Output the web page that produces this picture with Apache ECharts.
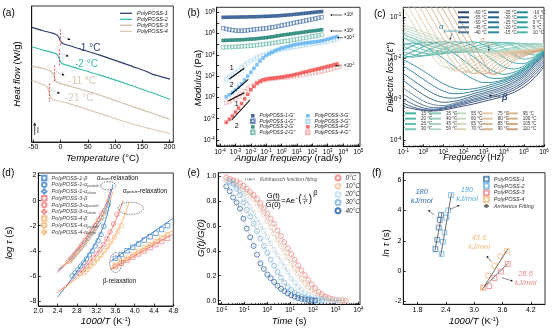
<!DOCTYPE html>
<html><head><meta charset="utf-8">
<script src="https://cdn.jsdelivr.net/npm/echarts@6/dist/echarts.min.js"></script>
<style>html,body{margin:0;padding:0;background:#fff}#c{width:554px;height:332px}</style>
</head><body><div id="c"></div>
<script>
const FONT = "'Liberation Sans', Arial, sans-serif";

// ---------- (a) DSC ----------
const aTemp1 = [-53,-32,-13,-6,-2,0,4,11,72,134,158,168,177,201];
const aHeat1 = [3.43,3.33,3.25,3.19,3.10,3.01,2.95,2.91,2.60,2.25,2.11,2.03,1.99,1.88];
const aTemp2 = [-53,-32,-13,-6,-3.4,-1,2.7,11.3,72.5,133.8,201];
const aHeat2 = [2.85,2.75,2.67,2.62,2.53,2.42,2.35,2.30,2.00,1.67,1.28];
const aTemp3 = [-53,-32,-19.4,-14.5,-11.4,-9,-4,11.3,72.5,133.8,201];
const aHeat3 = [2.27,2.20,2.13,2.07,1.95,1.83,1.77,1.70,1.40,1.05,0.68];
const aTemp4 = [-53,-37.7,-25.5,-22.4,-19.4,-16.3,-10.2,11.3,72.5,133.8,201];
const aHeat4 = [1.85,1.75,1.67,1.57,1.40,1.30,1.25,1.17,0.85,0.53,0.25];
const aTg = [-1,-2,-11,-21];
const aTicks = [-50,0,50,100,150,200];

// ---------- (b) rheology (log10 rad/s, log10 Pa) ----------
const bX1 = [-3.8,-3.6,-3.4,-3.2,-3.0,-2.8,-2.6,-2.4,-2.2,-2.0,-1.8,-1.6,-1.4,-1.2,-1.0,-0.8,-0.6,-0.4,-0.2,0,0.2,0.4,0.6,0.8,1.0,1.2,1.4,1.6,1.8,2.0,2.2,2.4,2.6];
const bP1s = [7.53,7.53,7.54,7.54,7.55,7.55,7.56,7.56,7.57,7.58,7.58,7.59,7.6,7.61,7.62,7.63,7.65,7.66,7.68,7.7,7.72,7.75,7.77,7.8,7.83,7.86,7.89,7.92,7.95,7.98,8.01,8.04,8.07];
const bP1l = [6.5,6.44,6.38,6.33,6.29,6.26,6.26,6.28,6.31,6.35,6.38,6.41,6.44,6.47,6.5,6.54,6.59,6.64,6.7,6.76,6.82,6.88,6.94,7.0,7.06,7.11,7.17,7.23,7.29,7.35,7.41,7.48,7.54];
const bP2s = [5.36,5.37,5.38,5.39,5.4,5.41,5.42,5.44,5.46,5.48,5.5,5.53,5.56,5.59,5.62,5.66,5.7,5.75,5.8,5.85,5.89,5.93,5.97,6.01,6.05,6.09,6.13,6.17,6.21,6.25,6.28,6.32,6.36];
const bP2l = [4.71,4.72,4.73,4.74,4.76,4.78,4.8,4.82,4.84,4.86,4.89,4.92,4.95,4.99,5.03,5.07,5.11,5.15,5.2,5.24,5.28,5.33,5.38,5.43,5.48,5.53,5.58,5.63,5.68,5.73,5.78,5.84,5.9];
const bX3 = [-3.6,-3.4,-3.2,-3.0,-2.8,-2.6,-2.4,-2.2,-2.0,-1.8,-1.6,-1.4,-1.2,-1.0,-0.8,-0.6,-0.4,-0.2,0,0.2,0.4,0.6,0.8,1.0,1.2,1.4,1.6,1.8,2.0,2.2,2.4,2.6,2.8,3.0,3.2,3.4,3.6];
const bP3s = [0.05,0.25,0.47,0.7,0.97,1.28,1.63,2.0,2.36,2.73,3.08,3.42,3.7,3.93,4.1,4.25,4.42,4.53,4.63,4.71,4.79,4.87,4.94,5.0,5.05,5.09,5.13,5.17,5.2,5.24,5.28,5.33,5.4,5.48,5.56,5.64,5.72];
const bP3l = [1.7,1.9,2.11,2.33,2.57,2.81,3.04,3.25,3.43,3.6,3.74,3.86,3.97,4.07,4.17,4.27,4.36,4.44,4.52,4.58,4.64,4.69,4.74,4.79,4.84,4.89,4.94,4.99,5.04,5.08,5.12,5.16,5.2,5.26,5.33,5.4,5.47];
const bP4s = [-2.34,-2.05,-1.74,-1.38,-1.0,-0.57,-0.13,0.3,0.72,1.04,1.33,1.52,1.65,1.72,1.77,1.8,1.83,1.87,1.91,1.96,2.01,2.06,2.13,2.2,2.27,2.35,2.42,2.49,2.56,2.63,2.7,2.77,2.85,2.92,2.99,3.07,3.15];
const bX4l = [-3.6,-3.4,-3.2,-3.0,-2.8,-2.6,-2.4,-2.2,-2.0,-1.8,-1.6,-1.4,-1.2,-1.0,-0.8,-0.6,-0.4,-0.2,0,0.2,0.4,0.6,0.8,1.0,1.2,1.4,1.6,1.8,2.0,2.2,2.4,2.6,2.8,3.0,3.2,3.4,3.6,3.8];
const bP4l = [-0.48,-0.38,-0.25,-0.08,0.11,0.33,0.58,0.83,1.03,1.21,1.36,1.5,1.6,1.68,1.73,1.77,1.8,1.83,1.85,1.88,1.91,1.94,1.98,2.03,2.08,2.13,2.19,2.24,2.29,2.34,2.39,2.45,2.51,2.57,2.63,2.72,2.82,2.92];

// ---------- (c) dielectric loss (log10 Hz, log10 eps'') ----------
const cLogFreq = [-1,-0.5,0,0.5,1,1.5,2,2.5,3,3.5,4,4.5,5,5.5,6];
const cTemps = [-60,-55,-50,-45,-40,-35,-30,-25,-20,-15,-10,-5,0,5,10,15,20,25,30,35,40,45,50,55,60,65,70,75,80,85,90,95,100,105,110];
const cLoss = [
 [-3.18,-3.24,-3.28,-3.29,-3.27,-3.22,-3.17,-3.12,-3.06,-3.0,-2.93,-2.84,-2.7,-2.5,-2.22],
 [-3.1,-3.2,-3.26,-3.27,-3.24,-3.19,-3.13,-3.07,-3.01,-2.95,-2.88,-2.78,-2.63,-2.43,-2.16],
 [-3.0,-3.13,-3.22,-3.25,-3.22,-3.16,-3.1,-3.03,-2.97,-2.91,-2.83,-2.73,-2.58,-2.37,-2.1],
 [-2.88,-3.03,-3.15,-3.21,-3.2,-3.14,-3.07,-3.0,-2.93,-2.86,-2.78,-2.68,-2.53,-2.32,-2.05],
 [-2.73,-2.9,-3.05,-3.14,-3.16,-3.11,-3.04,-2.96,-2.89,-2.82,-2.74,-2.63,-2.48,-2.27,-2.0],
 [-2.55,-2.73,-2.9,-3.02,-3.08,-3.06,-3.0,-2.92,-2.85,-2.78,-2.7,-2.59,-2.44,-2.22,-1.96],
 [-2.38,-2.55,-2.72,-2.87,-2.96,-2.98,-2.94,-2.87,-2.8,-2.73,-2.65,-2.54,-2.4,-2.18,-1.93],
 [-2.2,-2.35,-2.52,-2.68,-2.81,-2.87,-2.86,-2.81,-2.75,-2.68,-2.6,-2.5,-2.36,-2.15,-1.91],
 [-2.05,-2.17,-2.32,-2.48,-2.63,-2.73,-2.77,-2.75,-2.7,-2.63,-2.56,-2.46,-2.32,-2.12,-1.89],
 [-1.68,-1.64,-1.7,-1.85,-2.02,-2.2,-2.38,-2.52,-2.6,-2.59,-2.53,-2.43,-2.3,-2.1,-1.88],
 [-1.82,-1.7,-1.62,-1.63,-1.72,-1.88,-2.06,-2.25,-2.42,-2.5,-2.49,-2.4,-2.27,-2.08,-1.86],
 [-1.95,-1.84,-1.73,-1.64,-1.61,-1.66,-1.8,-1.98,-2.17,-2.33,-2.4,-2.35,-2.24,-2.05,-1.84],
 [-2.0,-1.95,-1.86,-1.76,-1.67,-1.61,-1.62,-1.72,-1.89,-2.07,-2.22,-2.27,-2.2,-2.03,-1.83],
 [-1.95,-1.98,-1.95,-1.88,-1.79,-1.7,-1.63,-1.61,-1.68,-1.82,-1.99,-2.12,-2.14,-2.0,-1.82],
 [-1.85,-1.92,-1.95,-1.93,-1.88,-1.8,-1.72,-1.65,-1.61,-1.64,-1.76,-1.92,-2.03,-1.98,-1.81],
 [-1.72,-1.82,-1.88,-1.91,-1.9,-1.86,-1.8,-1.73,-1.67,-1.62,-1.63,-1.72,-1.86,-1.93,-1.8],
 [-1.62,-1.72,-1.8,-1.86,-1.88,-1.87,-1.84,-1.79,-1.73,-1.67,-1.63,-1.64,-1.73,-1.85,-1.79],
 [-1.52,-1.62,-1.72,-1.8,-1.85,-1.87,-1.86,-1.83,-1.78,-1.72,-1.67,-1.64,-1.66,-1.75,-1.78],
 [-1.42,-1.53,-1.64,-1.73,-1.8,-1.84,-1.86,-1.85,-1.82,-1.78,-1.72,-1.67,-1.65,-1.68,-1.75],
 [-1.5,-1.58,-1.66,-1.73,-1.79,-1.83,-1.85,-1.86,-1.85,-1.83,-1.79,-1.74,-1.68,-1.65,-1.68],
 [-1.44,-1.52,-1.6,-1.68,-1.75,-1.8,-1.84,-1.86,-1.86,-1.85,-1.82,-1.77,-1.71,-1.66,-1.66],
 [-1.38,-1.46,-1.55,-1.63,-1.71,-1.77,-1.82,-1.85,-1.86,-1.86,-1.84,-1.8,-1.75,-1.69,-1.66],
 [-1.32,-1.4,-1.49,-1.58,-1.66,-1.73,-1.79,-1.83,-1.86,-1.87,-1.86,-1.83,-1.79,-1.73,-1.68],
 [-1.26,-1.34,-1.43,-1.52,-1.61,-1.69,-1.76,-1.81,-1.85,-1.87,-1.87,-1.85,-1.82,-1.77,-1.71],
 [-1.2,-1.28,-1.37,-1.46,-1.56,-1.65,-1.72,-1.78,-1.83,-1.86,-1.87,-1.86,-1.84,-1.8,-1.74],
 [-0.78,-1.2,-1.62,-2.0,-2.22,-2.25,-2.15,-2.02,-1.93,-1.88,-1.85,-1.83,-1.81,-1.79,-1.76],
 [-0.54,-0.97,-1.4,-1.82,-2.15,-2.3,-2.25,-2.1,-1.98,-1.9,-1.86,-1.84,-1.82,-1.8,-1.77],
 [-0.3,-0.73,-1.16,-1.6,-2.0,-2.28,-2.33,-2.2,-2.04,-1.93,-1.87,-1.85,-1.83,-1.8,-1.77],
 [-0.05,-0.48,-0.92,-1.36,-1.78,-2.14,-2.35,-2.3,-2.12,-1.98,-1.9,-1.86,-1.84,-1.81,-1.77],
 [0.2,-0.24,-0.68,-1.12,-1.55,-1.96,-2.28,-2.38,-2.22,-2.04,-1.93,-1.88,-1.85,-1.82,-1.78],
 [0.44,0.0,-0.44,-0.88,-1.32,-1.74,-2.12,-2.38,-2.32,-2.12,-1.97,-1.9,-1.86,-1.83,-1.78],
 [0.68,0.24,-0.2,-0.64,-1.08,-1.5,-1.92,-2.28,-2.4,-2.22,-2.03,-1.93,-1.88,-1.84,-1.79],
 [0.92,0.48,0.04,-0.4,-0.84,-1.27,-1.7,-2.1,-2.38,-2.32,-2.1,-1.97,-1.9,-1.85,-1.79],
 [1.16,0.72,0.28,-0.16,-0.6,-1.04,-1.47,-1.9,-2.28,-2.4,-2.2,-2.02,-1.93,-1.86,-1.8],
 [1.4,0.96,0.52,0.08,-0.36,-0.8,-1.24,-1.67,-2.1,-2.4,-2.3,-2.08,-1.96,-1.88,-1.8]
];
const cColors = ['#2a3f6e','#2c4c7c','#2f5a89','#496b92','#5a7897','#2a5b86','#276890','#257596','#2a819c','#338ca0',
 '#1f8b94','#249698','#2fa19d','#3eaaa3','#52b4aa','#45b3a5','#57b9ab','#68c0b1','#7cc6b7','#8ccbbb','#9bd0bf','#a9d4c3',
 '#b5d7c5','#c0d9c5','#cad9c2','#d5d6bc','#ddd0b2','#e0c9a8','#dcc2a0','#d8bb98','#d4b591','#d6b994','#d2b08a','#cda984','#c9a37e'];

// ---------- (d) relaxation map ----------
const dBetaX = [3.6,3.72,3.84,3.96,4.08,4.2,4.32,4.44,4.56,4.68];
const dB1 = [-4.6,-4.3,-4.0,-3.72,-3.45,-3.15,-2.88,-2.6,-2.3,-2.0];
const dB3 = [-5.25,-5.0,-4.75,-4.5,-4.25,-4.0,-3.75,-3.5,-3.25,-3.0];
const dB4 = [-5.15,-4.88,-4.6,-4.33,-4.06,-3.8,-3.52,-3.25,-2.98,-2.72];
const dFitBX = [3.5,4.8];
const dFitB1 = [-4.85,-1.4], dFitB3 = [-5.5,-2.65], dFitB4 = [-5.4,-2.35];
const dP1X = [2.7,2.76,2.82,2.88,2.94,3.0,3.06,3.12,3.18,3.24,3.3,3.36];
const dP1 = [-6.0,-5.75,-5.5,-5.22,-4.95,-4.65,-4.33,-4.0,-3.62,-3.2,-2.7,-2.05];
const dP3X = [2.86,2.93,3.0,3.07,3.14,3.21,3.28,3.35,3.42,3.49,3.56,3.63];
const dP3 = [-5.8,-5.5,-5.2,-4.9,-4.58,-4.25,-3.9,-3.5,-3.05,-2.5,-1.85,-1.1];
const dP4X = [2.95,3.02,3.09,3.16,3.23,3.3,3.37,3.44,3.51,3.58,3.65,3.72];
const dP4 = [-5.75,-5.5,-5.22,-4.95,-4.65,-4.35,-4.0,-3.65,-3.3,-2.9,-2.45,-2.0];
const dFitP1 = [[2.4,-7.7],[2.6,-6.7],[2.8,-5.65],[3.0,-4.55],[3.2,-3.3],[3.3,-2.5],[3.4,-1.5],[3.5,0.0]];
const dFitP3 = [[2.4,-7.3],[2.6,-6.7],[2.8,-6.0],[3.0,-5.2],[3.2,-4.3],[3.4,-3.2],[3.6,-1.6],[3.76,0.0]];
const dFitP4 = [[2.4,-7.35],[2.6,-6.8],[2.8,-6.2],[3.0,-5.55],[3.2,-4.85],[3.4,-3.95],[3.6,-2.75],[3.8,-1.1],[3.88,-0.2]];
const dC1X = [2.68,2.75,2.82,2.89,2.96,3.03,3.1,3.17,3.24,3.31,3.38,3.44];
const dC1 = [-4.65,-4.35,-4.03,-3.7,-3.35,-3.0,-2.62,-2.22,-1.8,-1.35,-0.85,-0.35];
const dC3X = [2.62,2.69,2.76,2.83,2.9,2.97,3.04,3.11,3.18,3.25,3.32];
const dC3 = [-4.85,-4.55,-4.22,-3.88,-3.52,-3.15,-2.78,-2.38,-1.95,-1.5,-1.02];
const dC4X = [2.66,2.73,2.8,2.87,2.94,3.01,3.08,3.15,3.22,3.29,3.36];
const dC4 = [-4.8,-4.5,-4.18,-3.85,-3.5,-3.14,-2.76,-2.36,-1.94,-1.5,-1.03];
const dFitC1 = [[2.4,-5.6],[2.6,-4.95],[2.8,-4.1],[3.0,-3.15],[3.2,-2.05],[3.4,-0.65],[3.55,1.3]];
const dFitC3 = [[2.4,-5.75],[2.6,-4.95],[2.8,-3.98],[3.0,-2.9],[3.2,-1.7],[3.4,-0.3],[3.5,0.9]];
const dFitC4 = [[2.4,-5.45],[2.6,-4.9],[2.8,-4.1],[3.0,-3.2],[3.2,-2.1],[3.4,-0.75],[3.55,0.7]];

// ---------- (e) stress relaxation (log10 s) ----------
const eLogTime = [-1.8,-1.65,-1.5,-1.35,-1.2,-1.05,-0.9,-0.75,-0.6,-0.45,-0.3,-0.15,0,0.15,0.3,0.45,0.6,0.75,0.9,1.05,1.2,1.35,1.5,1.65,1.8,1.95,2.1,2.25,2.4,2.55,2.7,2.85,3.0,3.15,3.3,3.45];
const eG0 = [0.99,0.98,0.97,0.96,0.945,0.925,0.9,0.875,0.85,0.82,0.785,0.745,0.70,0.66,0.62,0.565,0.52,0.47,0.42,0.375,0.33,0.285,0.245,0.205,0.165,0.13,0.1,0.07,0.05,0.032,0.02,0.012,0.006,0.003,0.001,0.0];
const eG10 = [0.97,0.96,0.95,0.935,0.915,0.895,0.875,0.85,0.82,0.78,0.735,0.69,0.64,0.59,0.54,0.49,0.44,0.39,0.345,0.30,0.255,0.215,0.175,0.14,0.11,0.082,0.06,0.042,0.028,0.018,0.011,0.006,0.003,0.001,0.0];
const eG20 = [null,0.96,0.94,0.92,0.89,0.86,0.81,0.755,0.705,0.655,0.605,0.56,0.51,0.46,0.41,0.365,0.32,0.275,0.23,0.18,0.145,0.11,0.085,0.062,0.044,0.03,0.02,0.012,0.007,0.004,0.002,0.001,0,0];
const eG30 = [null,0.96,0.94,0.9,0.85,0.79,0.73,0.675,0.62,0.56,0.5,0.44,0.385,0.33,0.28,0.23,0.185,0.145,0.11,0.085,0.062,0.045,0.032,0.022,0.014,0.008,0.004,0.002,0.0];
const eG40 = [0.92,0.88,0.83,0.79,0.74,0.66,0.58,0.51,0.44,0.37,0.3,0.255,0.21,0.18,0.15,0.12,0.095,0.075,0.058,0.043,0.031,0.021,0.014,0.009,0.005,0.002,0.0];
const eNames = ['0°C','10°C','20°C','30°C','40°C'];
const eColors = ['#f27a7a','#f7c4a0','#bcdcf4','#72b3ea','#1f5ca8'];

// ---------- (f) Arrhenius ----------
const fX1 = [2.18,2.22,2.25,2.27,2.30], fY1 = [1.45,2.07,2.87,3.38,3.71];
const fX2 = [2.31,2.34,2.37,2.41,2.45,2.51], fY2 = [1.13,1.93,2.55,3.53,4.01,5.02];
const fX3 = [3.19,3.32,3.43,3.57,3.71], fY3 = [-1.1,-1.0,-0.47,-0.03,0.47];
const fX4 = [3.19,3.30,3.43,3.56,3.69], fY4 = [-1.1,-0.3,0.36,0.97,1.34];
const fFit1 = [[2.17,1.35],[2.32,3.86]], fFit2 = [[2.29,0.97],[2.52,5.13]];
const fFit3 = [[3.18,-1.15],[3.73,0.55]], fFit4 = [[3.18,-1.2],[3.71,1.45]];
const fColors = ['#3a74b8','#68b3ee','#f28585','#f6bd80'];

// ================= build =================
const zip = (a,b) => a.map((x,i)=>[x,b[i]]);
const grids = [
  {left:31.7, top:6, width:141.6, height:136},
  {left:216.7, top:7.3, width:143.3, height:138.7},
  {left:403.3, top:7.3, width:140.7, height:139.4},
  {left:38.3, top:173, width:135, height:133},
  {left:218.3, top:172.7, width:141.7, height:131.6},
  {left:403.3, top:172.7, width:141.7, height:131.6}
].map(g => Object.assign(g, {show:true, borderColor:'#000', borderWidth:0.8, backgroundColor:'transparent'}));

const RICH = {
  b:{fontSize:6.5, lineHeight:8, fontFamily:FONT, color:'#000'},
  s:{fontSize:4.5, lineHeight:4.5, verticalAlign:'top', fontFamily:FONT, color:'#000'}
};
const logFmt = v => '{b|10}{s|' + Math.round(v) + '}';
function ax(gi, min, max, ticks, labels, fmt, extra) {
  return Object.assign({
    type:'value', gridIndex:gi, min, max,
    axisLine:{show:true, onZero:false, lineStyle:{color:'#000', width:0.8}},
    axisTick:{show:!!ticks, inside:true, length:2.5, lineStyle:{color:'#000', width:0.8}, customValues:ticks||undefined},
    axisLabel:{show:!!labels, customValues:labels||undefined, formatter:fmt, fontFamily:FONT, fontSize:7, color:'#000', margin:2, rich:RICH},
    splitLine:{show:false}
  }, extra||{});
}
const ints = (a,b,s) => { const r=[]; for (let v=a; v<=b+1e-9; v+=s) r.push(Math.round(v*100)/100); return r; };
// minor (log) tick positions between decades
const minorLog = (a,b,lo,hi) => { const r=[]; for (let n=a; n<b; n++) for (let k=2;k<10;k++) { const v=n+Math.log10(k); if (v>lo && v<hi) r.push(v); } return r; };
function minorAx(gi, min, max, ticks, pos) {
  return {type:'value', gridIndex:gi, min, max, position:pos, axisLine:{show:false, onZero:false}, axisLabel:{show:false}, splitLine:{show:false},
    axisTick:{show:true, inside:true, length:1.4, lineStyle:{color:'#000', width:0.6}, customValues:ticks}};
}

const xAxis = [
  ax(0, -53, 207, aTicks, aTicks, v=>String(v)),
  ax(1, -4.22, 5.1, ints(-4,5,1), ints(-4,5,1), logFmt),
  ax(2, -1, 6, ints(-1,6,1), ints(-1,6,1), logFmt),
  ax(3, 2.0, 4.8, ints(2,4.8,0.4), ints(2,4.8,0.4), v=>v.toFixed(1)),
  ax(4, -2.15, 4.07, ints(-2,4,1), ints(-2,4,1), logFmt),
  ax(5, 1.5, 4.5, [1.8,2.4,3.0,3.6,4.2], [1.8,2.4,3.0,3.6,4.2], v=>v.toFixed(1)),
  minorAx(1, -4.22, 5.1, minorLog(-5,5,-4.22,5.1), 'bottom'),
  minorAx(2, -1, 6, minorLog(-1,6,-1,6), 'bottom'),
  minorAx(4, -2.15, 4.07, minorLog(-3,4,-2.15,4.07), 'bottom')
];
const yAxis = [
  ax(0, 0, 4.07, null, null, null),
  ax(1, -4.56, 8.47, ints(-4,8,1), ints(-4,8,2), logFmt),
  ax(2, -4.16, -0.77, ints(-4,-1,1), ints(-4,-1,1), logFmt),
  ax(3, -8.4, 2.2, ints(-8,2,2), ints(-8,2,2), v=>String(v)),
  ax(4, -0.03, 1.03, ints(0,1,0.2), ints(0,1,0.2), v=>v.toFixed(1)),
  ax(5, -2.2, 6.5, ints(-2,6,2), ints(-2,6,2), v=>String(v)),
  minorAx(2, -4.16, -0.77, minorLog(-5,-1,-4.16,-0.77), 'left')
];

const series = [];
// (a)
const aCols = ['#2b3e6e','#3cbcad','#d2bda5','#dccab6'];
const aT = [aTemp1,aTemp2,aTemp3,aTemp4], aH = [aHeat1,aHeat2,aHeat3,aHeat4];
const aDash = [[3.37,2.85],[2.77,2.27],[2.30,1.80],[1.75,1.20]];
for (let i=0;i<4;i++) {
  series.push({name:'a:PolyPOSS-'+(i+1), type:'line', xAxisIndex:0, yAxisIndex:0, data:zip(aT[i],aH[i]),
    smooth:0.3, symbol:'none', lineStyle:{color:aCols[i], width:1.2}, itemStyle:{color:aCols[i]},
    markLine:{silent:true, symbol:'none', label:{show:false}, animation:false,
      lineStyle:{color:'#f06060', type:[2,1.5], width:1.1},
      data:[[{coord:[aTg[i],aDash[i][0]]},{coord:[aTg[i],aDash[i][1]]}]]}});
}
// (b)
const bDefs = [
  ['PolyPOSS-1-G\'\'', bX1, bP1l, '#3d6aa8', false],
  ['PolyPOSS-1-G\'', bX1, bP1s, '#1e4b86', true],
  ['PolyPOSS-2-G\'\'', bX1, bP2l, '#66b8a8', false],
  ['PolyPOSS-2-G\'', bX1, bP2s, '#137a6c', true],
  ['PolyPOSS-3-G\'\'', bX3, bP3l, '#a9d5f6', false],
  ['PolyPOSS-3-G\'', bX3, bP3s, '#5fb2f2', true],
  ['PolyPOSS-4-G\'\'', bX4l, bP4l, '#f6a6a6', false],
  ['PolyPOSS-4-G\'', bX3, bP4s, '#f24a4a', true]
];
bDefs.forEach(d => series.push({name:d[0], type:'scatter', xAxisIndex:1, yAxisIndex:1, data:zip(d[1],d[2]),
  symbol:'rect', symbolSize:3.6,
  itemStyle: d[4] ? {color:d[3]} : {color:'rgba(255,255,255,0)', borderColor:d[3], borderWidth:0.8}}));
// (c)
cTemps.forEach((t,k) => series.push({name:t+' °C', type:'line', xAxisIndex:2, yAxisIndex:2,
  data:zip(cLogFreq,cLoss[k]), smooth:0.35, symbol:'none', clip:true,
  lineStyle:{color:cColors[k], width:0.9}, itemStyle:{color:cColors[k]}}));
// (d)
const dCol = ['#3e82c8','#f37a7a','#f6b56f'];
const dDefs = [
  ['PolyPOSS-1-β', dBetaX, dB1, 0, 'rect', dFitBX.map((x,i)=>[x,dFitB1[i]])],
  ['PolyPOSS-1-αp', dP1X, dP1, 0, 'circle', dFitP1],
  ['PolyPOSS-1-αc', dC1X, dC1, 0, 'diamond', dFitC1],
  ['PolyPOSS-3-β', dBetaX, dB3, 1, 'rect', dFitBX.map((x,i)=>[x,dFitB3[i]])],
  ['PolyPOSS-3-αp', dP3X, dP3, 1, 'circle', dFitP3],
  ['PolyPOSS-3-αc', dC3X, dC3, 1, 'diamond', dFitC3],
  ['PolyPOSS-4-β', dBetaX, dB4, 2, 'rect', dFitBX.map((x,i)=>[x,dFitB4[i]])],
  ['PolyPOSS-4-αp', dP4X, dP4, 2, 'circle', dFitP4],
  ['PolyPOSS-4-αc', dC4X, dC4, 2, 'diamond', dFitC4]
];
dDefs.forEach((d,i) => {
  series.push({name:'dfit'+i, type:'line', xAxisIndex:3, yAxisIndex:3, data:d[5], smooth:0.4, symbol:'none',
    lineStyle:{color:dCol[d[3]], width:1}, itemStyle:{color:dCol[d[3]]}});
  series.push({name:d[0], type:'scatter', xAxisIndex:3, yAxisIndex:3, data:zip(d[1],d[2]), symbol:d[4],
    symbolSize:d[4]==='diamond'?5.5:4.5, itemStyle:{color:'rgba(255,255,255,0)', borderColor:dCol[d[3]], borderWidth:0.9}});
});
// (e)
const eData = [eG0,eG10,eG20,eG30,eG40];
eData.forEach((g,i) => {
  series.push({name:eNames[i], type:'scatter', xAxisIndex:4, yAxisIndex:4,
    data:zip(eLogTime.slice(0,g.length), g).filter(p=>p[1]!==null), symbol:'circle', symbolSize:5,
    itemStyle:{color:'rgba(255,255,255,0)', borderColor:eColors[i], borderWidth:0.9}});
});
eData.forEach((g,i) => {
  series.push({name:'Kohlrausch function fitting', type:'line', xAxisIndex:4, yAxisIndex:4,
    data:zip(eLogTime.slice(0,g.length), g).filter(p=>p[1]!==null), smooth:0.4, symbol:'none', z:5,
    lineStyle:{color:'#9a9a9a', width:0.8, type:[1,1.2]}, itemStyle:{color:'#9a9a9a'}});
});
// (f)
const fD = [[fX1,fY1,fFit1],[fX2,fY2,fFit2],[fX3,fY3,fFit3],[fX4,fY4,fFit4]];
fD.forEach((d,i) => series.push({name:'Arrhenius Fitting', type:'line', xAxisIndex:5, yAxisIndex:5, data:d[2],
  symbol:'none', lineStyle:{color:'#6e6e6e', width:1}, itemStyle:{color:'#6e6e6e'}}));
fD.forEach((d,i) => series.push({name:'f:PolyPOSS-'+(i+1), type:'scatter', xAxisIndex:5, yAxisIndex:5,
  data:zip(d[0],d[1]), symbol:'rect', symbolSize:4.8,
  itemStyle:{color:'rgba(255,255,255,0)', borderColor:fColors[i], borderWidth:1}}));

// ================= legends =================
const strip = n => n.replace(/^[a-z]:/,'');
function LG(o, ts) {
  return Object.assign({orient:'vertical', padding:0, itemGap:0, selectedMode:false,
    textStyle:Object.assign({fontFamily:FONT, fontSize:5.5, color:'#222', lineHeight:6}, ts||{})}, o);
}
const legends = [
  LG({left:120, top:10.3, data:[1,2,3,4].map(i=>'a:PolyPOSS-'+i), icon:'rect', itemWidth:12, itemHeight:1.3, formatter:strip},
     {fontStyle:'italic', lineHeight:6}),
  LG({left:250, top:113, data:['PolyPOSS-1-G\'','PolyPOSS-1-G\'\'','PolyPOSS-2-G\'','PolyPOSS-2-G\'\''], itemWidth:3.6, itemHeight:3.6},
     {fontSize:5, fontStyle:'italic', lineHeight:5.5}),
  LG({left:305, top:113, data:['PolyPOSS-3-G\'','PolyPOSS-3-G\'\'','PolyPOSS-4-G\'','PolyPOSS-4-G\'\''], itemWidth:3.6, itemHeight:3.6},
     {fontSize:5, fontStyle:'italic', lineHeight:5.5})
];
const cTop = [[-60,-55,-50,-45,-40],[-35,-30,-25,-20,-15],[-10,-5,0,5,10]];
const cTopLeft = [458,488,516.7];
cTop.forEach((col,i) => legends.push(LG({left:cTopLeft[i], top:9.8, data:col.map(t=>t+' °C'), icon:'rect', itemWidth:11, itemHeight:2},
  {fontSize:4.5, lineHeight:5, color:'#333'})));
const cBot = [[15,20,25,30],[35,40,45,50],[55,60,65,70],[75,80,85,90],[95,100,105,110]];
const cBotLeft = [405,430,455,481.7,506.7];
cBot.forEach((col,i) => legends.push(LG({left:cBotLeft[i], top:110.7, data:col.map(t=>t+' °C'), icon:'rect', itemWidth:11, itemHeight:2},
  {fontSize:4.5, lineHeight:5.3, color:'#333'})));
legends.push(LG({left:41, top:174.6, data:dDefs.map(d=>d[0]), itemWidth:4.5, itemHeight:4.5,
  formatter: n => { const m = n.match(/^(PolyPOSS-\d)-(β|αp|αc)$/); if (!m || m[2]==='β') return n;
    return m[1] + '-α{s|' + (m[2]==='αp' ? 'particle' : 'chain') + '}'; }},
  {fontSize:5.5, fontStyle:'italic', lineHeight:6.75, color:'#444',
   rich:{s:{fontSize:3.6, fontStyle:'italic', verticalAlign:'bottom', lineHeight:3.6, color:'#444', fontFamily:FONT}}}));
legends.push(LG({left:334.5, top:173.9, data:eNames, itemWidth:5, itemHeight:5}, {fontSize:6.5, fontStyle:'italic', lineHeight:8.2, color:'#333'}));
legends.push(LG({left:244, top:176.6, data:['Kohlrausch function fitting'], itemWidth:10, itemHeight:3}, {fontSize:5, fontStyle:'italic', lineHeight:5.5, color:'#555'}));
legends.push(LG({left:483, top:175.8, data:[1,2,3,4].map(i=>'f:PolyPOSS-'+i).concat(['Arrhenius Fitting']), itemWidth:4.8, itemHeight:4.8, formatter:strip},
  {fontSize:5.5, fontStyle:'italic', lineHeight:5.8, color:'#333'}));

// ================= annotations =================
const G = [];
function Tx(x, y, text, o) {
  o = o || {};
  const fs = o.fs || 9.5;
  const st = {text, fontFamily:FONT, fontSize:fs, fill:o.c||'#000', align:o.al||'center', verticalAlign:'middle',
    fontStyle:o.it?'italic':'normal', fontWeight:o.bold?'bold':'normal'};
  st.rich = {
    i:{fontStyle:'italic', fontSize:fs, fontFamily:FONT, fill:o.c||'#000', fontWeight:o.bold?'bold':'normal'},
    s:{fontSize:fs*0.6, lineHeight:fs*0.6, verticalAlign:'top', fontFamily:FONT, fill:o.c||'#000', fontStyle:o.it?'italic':'normal'},
    u:{fontSize:fs*0.55, lineHeight:fs*0.55, verticalAlign:'bottom', fontFamily:FONT, fill:o.c||'#000', fontStyle:o.it?'italic':'normal'},
    n:{fontSize:fs, lineHeight:fs*1.5, fontFamily:FONT, fill:o.c||'#000', fontStyle:o.it?'italic':'normal', fontWeight:o.bold?'bold':'normal'}
  };
  G.push({type:'text', x, y, rotation:o.rot||0, silent:true, z:100, style:st});
}
function Ln(x1,y1,x2,y2,c,w,dash) {
  G.push({type:'line', silent:true, z:100, shape:{x1,y1,x2,y2}, style:{stroke:c||'#000', lineWidth:w||0.8, lineDash:dash||null}});
}
function Ar(x1,y1,x2,y2,c,hc,w,dash,h) {
  h = h || 2.6;
  const a = Math.atan2(y2-y1, x2-x1), bx = x2 - h*Math.cos(a), by = y2 - h*Math.sin(a);
  const px = 0.5*h*Math.sin(a), py = -0.5*h*Math.cos(a);
  Ln(x1,y1,bx,by,c,w,dash);
  G.push({type:'polygon', silent:true, z:100, shape:{points:[[x2,y2],[bx+px,by+py],[bx-px,by-py]]}, style:{fill:hc||'#000'}});
}
// panel letters
Tx(2.5,13.5,'(a)',{al:'left',fs:10}); Tx(187.5,13.5,'(b)',{al:'left',fs:10}); Tx(374,14,'(c)',{al:'left',fs:10});
Tx(2,173,'(d)',{al:'left',fs:10}); Tx(187.5,173,'(e)',{al:'left',fs:10}); Tx(372,173,'(f)',{al:'left',fs:10});
// axis titles
const R90 = Math.PI/2;
Tx(102.5,158.3,'{i|Temperature} (°C)'); Tx(17.5,74,'{i|Heat flow} (W/g)',{rot:R90});
Tx(288.3,158.5,'{i|Angular frequency} (rad/s)'); Tx(198.5,78,'{i|Modulus} (Pa)',{rot:R90});
Tx(473.6,158,'{i|Frequency} (Hz)',{fs:8.8}); Tx(390.5,77,"{i|Dielectric loss} (ε'')",{rot:R90,fs:8.8});
Tx(105.8,321,'{i|1000/T} (K{s|-1})'); Tx(9.5,243,'{i|log τ} (s)',{rot:R90});
Tx(289,321,'{i|Time} (s)'); Tx(201.7,238,'{i|G(t)/G(0)}',{rot:R90});
Tx(474,321,'{i|1000/T} (K{s|-1})'); Tx(386.7,243,'{i|ln τ} (s)',{rot:R90});
// (a)
Tx(77.5,48.3,'-1 °C',{al:'left',fs:10,c:'#2b3e6e'}); Tx(75,64.3,'-2 °C',{al:'left',fs:10,c:'#3cbcad'});
Tx(68.3,81.7,'-11 °C',{al:'left',fs:10,c:'#d9c6b0'}); Tx(65,98.3,'-21 °C',{al:'left',fs:10,c:'#dccdbd'});
Ar(61.7,36,70.5,40,'#888','#000',0.6,[1,1]); Ar(60,53.3,68.8,56.3,'#888','#000',0.6,[1,1]);
Ar(56,71.7,64.5,75.2,'#888','#000',0.6,[1,1]); Ar(50.7,90,60,93.5,'#888','#000',0.6,[1,1]);
Ar(34.7,135,34.7,122.5,'#000','#000',0.7,null,3); Tx(37.6,130,'exo',{rot:R90,fs:3.6});
// (b)
Ln(229.3,79,244.3,68.3,'#000',1.1); Ln(231,94.3,248.3,79.3,'#000',1.1);
Ln(228.3,101,244.3,92.7,'#000',1.1); Ln(231.7,120,250,100,'#000',1.1);
Tx(231.7,68.5,'1',{fs:7}); Tx(231.7,85.5,'2',{fs:7}); Tx(236.7,104,'1',{fs:7}); Tx(236.7,126.5,'2',{fs:7});
[[15,'2',342,330],[31,'0',342,330],[37.7,'-2',343,337],[65.7,'-2',341,335]].forEach(r => {
  Ar(r[2],r[0],r[3],r[0],'#000','#000',0.6,null,2); Tx(344,r[0],'×10{s|'+r[1]+'}',{al:'left',fs:4.6});
});
// (c)
Tx(439,27,'{n|σ}{u|particle}',{al:'left',fs:8,c:'#2a8a9a',it:true}); Ar(452,33,450,40,'#444','#000',0.6,null,2);
Tx(480.5,40.5,'{n|σ}{u|Chain}',{al:'left',fs:7,c:'#c9a37e',it:true}); Ar(488.5,45,489,51.5,'#444','#000',0.6,null,2);
Tx(502,98,'β',{al:'left',fs:9,c:'#2b4f80',it:true,bold:true}); Ar(500,96.5,489,95.5,'#444','#000',0.6,null,2.2);
// (d)
Tx(97,178,'α{u|chain}-relaxation',{al:'left',fs:6.3,c:'#111'});
Tx(123,191,'α{u|particle}-relaxation',{al:'left',fs:6.3,c:'#111'});
Tx(103,281.5,'β-relaxation',{al:'left',fs:6.3,c:'#111'});
[[108.3,185.8,7.5,4.2],[130.7,208.3,12.5,6],[115.7,262.7,6,10]].forEach(e =>
  G.push({type:'ellipse', silent:true, z:100, shape:{cx:e[0],cy:e[1],rx:e[2],ry:e[3]}, style:{fill:'none', stroke:'#333', lineWidth:0.6, lineDash:[1.5,1]}}));
// (e) formula
Tx(273.3,196,'G(t)',{fs:7.5}); Ln(266.5,200.3,280.3,200.3,'#000',0.6); Tx(273.3,205,'G(0)',{fs:7.5});
Tx(281.3,201,'=Ae',{al:'left',fs:7.5}); Tx(296.5,198,'-',{fs:6.5}); Tx(300,199.5,'(',{fs:10});
Tx(305,196,'t',{fs:5.5}); Ln(302.5,199.3,307.8,199.3,'#000',0.5); Tx(305.2,202.5,'τ*',{fs:5}); Tx(310.3,199.5,')',{fs:10});
Tx(315.3,193.5,'β',{fs:7});
// (f)
Tx(421.7,192.3,'180',{fs:7.5,it:true,c:'#2f6db5'}); Tx(421.7,201.3,'kJ/mol',{fs:7.5,it:true,c:'#2f6db5'});
Tx(467,190,'180',{fs:7.5,it:true,c:'#5aaeea'}); Tx(467,199.3,'kJ/mol',{fs:7.5,it:true,c:'#5aaeea'});
Tx(479,237.7,'43.6',{fs:7.5,it:true,c:'#f4b878'}); Tx(479,247.3,'kJ/mol',{fs:7.5,it:true,c:'#f4b878'});
Tx(525.5,274,'28.6',{fs:7.5,it:true,c:'#f28585'}); Tx(525.5,283,'kJ/mol',{fs:7.5,it:true,c:'#f28585'});
Ar(434.3,215,428,210,'#444','#000',0.6,null,2.2); Ar(450,209.3,459.5,205.2,'#444','#000',0.6,null,2.2);
Ar(491.7,262,486.5,255.8,'#444','#000',0.6,null,2.2); Ar(501.7,277.7,513,281.2,'#444','#000',0.6,null,2.2);

const chart = echarts.init(document.getElementById('c'), null, {renderer:'canvas'});
chart.setOption({animation:false, grid:grids, xAxis, yAxis, series, legend:legends, graphic:G});
</script>
</body></html>
